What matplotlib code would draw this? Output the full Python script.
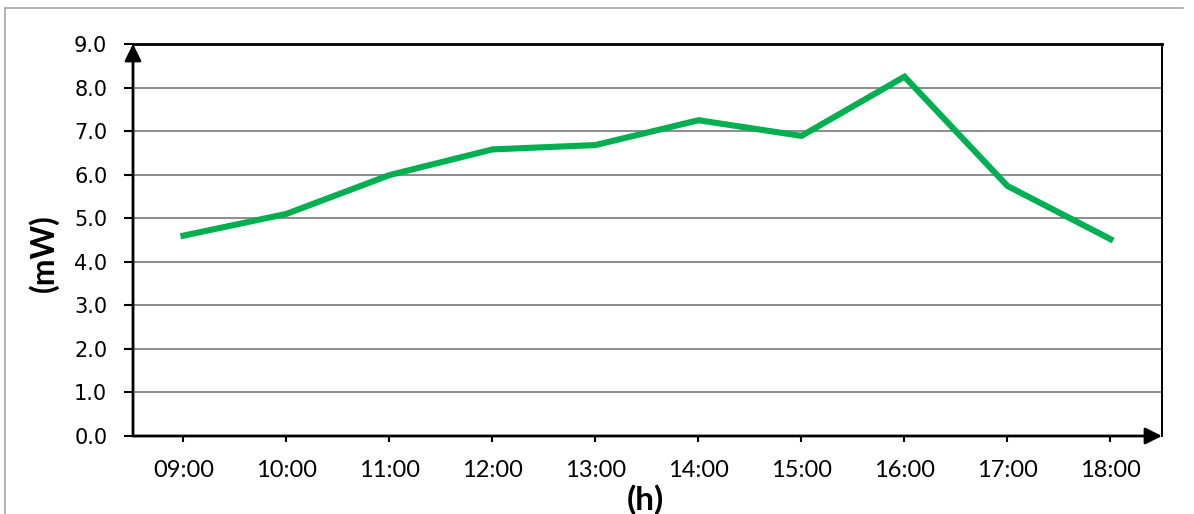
import matplotlib

matplotlib.use("Agg")
import matplotlib.pyplot as plt
from matplotlib.lines import Line2D

# data
hours = ["09:00", "10:00", "11:00", "12:00", "13:00", "14:00", "15:00", "16:00", "17:00", "18:00"]
power_mw = [4.60, 5.10, 5.99, 6.58, 6.68, 7.25, 6.89, 8.25, 5.74, 4.52]
y_ticks = [0, 1, 2, 3, 4, 5, 6, 7, 8, 9]

W, H = 1194, 514
fig = plt.figure(figsize=(W / 100, H / 100), dpi=100)
ax = fig.add_axes([133 / W, 78 / H, (1162 - 133) / W, (436 - 44) / H])

x = list(range(len(hours)))
ax.plot(x, power_mw, color="#00B050", lw=4.4, solid_joinstyle="miter", zorder=3)

ax.set_xlim(-0.49, len(hours) - 0.5)
ax.set_ylim(0, 9)

ax.set_yticks(y_ticks)
ax.set_yticklabels([f"{v:.1f}" for v in y_ticks], fontfamily="DejaVu Sans", fontsize=15)
ax.set_xticks(x)
ax.set_xticklabels(hours, fontfamily="Lato", fontsize=17)
ax.tick_params(axis="y", direction="out", length=6.5, width=1.5, pad=12)
ax.tick_params(axis="x", direction="out", length=4.5, width=1.5, pad=13)

for v in y_ticks[1:-1]:
    ax.axhline(v, color="#8c8c8c", lw=1.4, zorder=1)

for side in ("left", "bottom"):
    ax.spines[side].set_visible(False)
ax.spines["top"].set_linewidth(2)
ax.spines["right"].set_linewidth(1.4)

# arrowed axes
arrow = dict(arrowstyle="-|>", color="black", lw=2, mutation_scale=25, shrinkA=0, shrinkB=0)
ax.annotate("", xy=(0, 1), xytext=(0, 0), xycoords="axes fraction", arrowprops=arrow, zorder=4)
ax.annotate("", xy=(1, 0), xytext=(0, 0), xycoords="axes fraction", arrowprops=arrow, zorder=4)

fig.text(43 / W, 1 - 253 / H, "(mW)", rotation=90, ha="center", va="center",
         fontfamily="Lato", fontweight="bold", fontsize=23)
fig.text(645 / W, 4 / H, "(h)", ha="center", va="baseline",
         fontfamily="Lato", fontweight="bold", fontsize=24)

# chart area border (top and left only visible)
fig.add_artist(Line2D([5 / W, 1183 / W], [1 - 8 / H, 1 - 8 / H], color="#a6a6a6", lw=1.2))
fig.add_artist(Line2D([5 / W, 5 / W], [0, 1 - 8 / H], color="#a6a6a6", lw=1.2))

fig.savefig("out.png", dpi=100)
plt.close(fig)
